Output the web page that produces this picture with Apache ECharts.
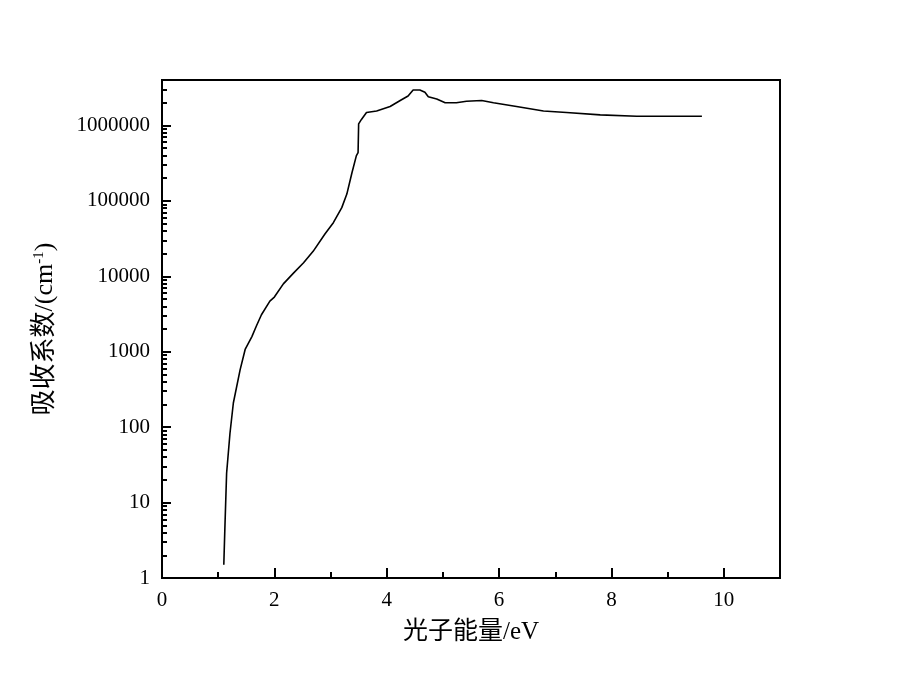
<!DOCTYPE html>
<html>
<head>
<meta charset="utf-8">
<script src="https://cdn.jsdelivr.net/npm/echarts@6/dist/echarts.min.js"></script>
<style>html,body{margin:0;padding:0;background:#fff}#c{width:906px;height:693px}</style>
</head>
<body>
<div id="c"></div>
<script>
// Photon energy (eV)
var energy = [1.10, 1.12, 1.15, 1.21, 1.27, 1.39, 1.48, 1.60, 1.68, 1.77, 1.92, 2.00, 2.16, 2.34, 2.52, 2.69, 2.90, 3.05, 3.20, 3.29, 3.38, 3.46, 3.49, 3.50, 3.55, 3.64, 3.82, 4.06, 4.24, 4.38, 4.47, 4.59, 4.68, 4.74, 4.89, 5.04, 5.24, 5.42, 5.69, 5.90, 6.31, 6.79, 7.20, 7.80, 8.45, 9.61];
// Absorption coefficient (cm^-1)
var absorption = [1.5, 4.8, 24.5, 83, 209, 575, 1070, 1585, 2190, 3090, 4680, 5300, 7940, 11000, 15100, 21400, 36300, 51300, 81300, 123000, 234000, 398000, 437000, 1050000, 1200000, 1480000, 1550000, 1780000, 2140000, 2450000, 2950000, 2950000, 2750000, 2400000, 2240000, 2000000, 2000000, 2090000, 2140000, 2000000, 1780000, 1550000, 1480000, 1380000, 1320000, 1320000];
// Minor tick positions on log axis
var minorTicks = [2,3,4,5,6,7,8,9,20,30,40,50,60,70,80,90,200,300,400,500,600,700,800,900,2000,3000,4000,5000,6000,7000,8000,9000,20000,30000,40000,50000,60000,70000,80000,90000,200000,300000,400000,500000,600000,700000,800000,900000,2000000,3000000];

var fontNum = 'Liberation Serif, DejaVu Serif, Noto Sans CJK SC';
var chart = echarts.init(document.getElementById('c'));
var series = [];
for (var i = 0; i < energy.length; i++) series.push([energy[i], absorption[i]]);

chart.setOption({
  animation: false,
  backgroundColor: '#fff',
  grid: {left: 162, right: 126, top: 80, bottom: 115, show: true, borderColor: '#000', borderWidth: 2, backgroundColor: 'transparent'},
  xAxis: {
    type: 'value', min: 0, max: 11, interval: 2,
    name: '光子能量/eV', nameLocation: 'middle', nameGap: 42,
    nameTextStyle: {fontSize: 25, color: '#000', fontFamily: fontNum},
    axisLine: {show: true, lineStyle: {color: '#000', width: 2}},
    axisTick: {show: true, inside: true, length: 10, lineStyle: {color: '#000', width: 2}},
    minorTick: {show: true, splitNumber: 2, length: 6, lineStyle: {color: '#000', width: 2}},
    axisLabel: {fontSize: 21, color: '#000', fontFamily: fontNum, margin: 12, showMaxLabel: false},
    splitLine: {show: false}
  },
  yAxis: [{
    type: 'log', min: 1, max: 4000000, logBase: 10,
    name: '{a|吸收系数/(cm}{s|-1}{a|)}', nameLocation: 'middle', nameGap: 104,
    nameTextStyle: {color: '#000', rich: {
      a: {fontSize: 26, fontFamily: fontNum, color: '#000'},
      s: {fontSize: 15, fontFamily: fontNum, color: '#000', verticalAlign: 'top', padding: [0,0,10,0]}
    }},
    axisLine: {show: true, lineStyle: {color: '#000', width: 2}},
    axisTick: {show: true, inside: true, length: 9, lineStyle: {color: '#000', width: 2}},
    axisLabel: {fontSize: 21, color: '#000', fontFamily: fontNum, margin: 12, showMaxLabel: false,
      formatter: function (v) { return String(Math.round(v)); }},
    splitLine: {show: false}
  }, {
    type: 'log', min: 1, max: 4000000, logBase: 10, position: 'left',
    axisLine: {show: false},
    axisTick: {show: true, inside: true, length: 5, customValues: minorTicks, lineStyle: {color: '#000', width: 2}},
    axisLabel: {show: false},
    splitLine: {show: false}
  }],
  series: [{
    type: 'line', data: series, showSymbol: false, symbol: 'none', smooth: false,
    lineStyle: {color: '#000', width: 1.6}, yAxisIndex: 0
  }]
});
</script>
</body>
</html>
